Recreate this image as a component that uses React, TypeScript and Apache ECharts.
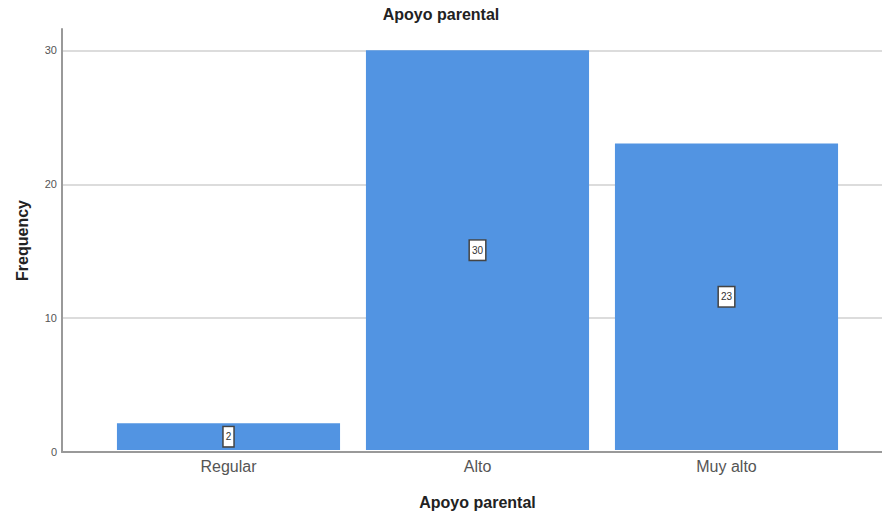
import React, { useEffect, useRef } from "react";
import * as echarts from "echarts";

const categories = ["Regular", "Alto", "Muy alto"];
const frequencies = [2, 30, 23];
const yTicks = [0, 10, 20, 30];
const chartTitle = "Apoyo parental";
const xTitle = "Apoyo parental";
const yTitle = "Frequency";

const FONT = "'Liberation Sans', Arial, sans-serif";
const Y_MAX = 31.6;

export default function App() {
  const ref = useRef<HTMLDivElement>(null);
  useEffect(() => {
    if (!ref.current) return;
    const chart = echarts.init(ref.current, undefined, { renderer: "svg" });
    chart.setOption({
      animation: false,
      backgroundColor: "#ffffff",
      title: {
        text: chartTitle,
        left: "center",
        top: 1,
        textStyle: { fontFamily: FONT, fontSize: 16, fontWeight: "bold", color: "#222" },
      },
      grid: [
        { left: 62, right: 0, top: 29, bottom: 63 },
        { left: 104, right: 31, top: 29, bottom: 63 },
      ],
      xAxis: [
        {
          gridIndex: 0,
          type: "category",
          data: [""],
          axisLine: { show: true, lineStyle: { color: "#999", width: 2 } },
          axisTick: { show: false },
          axisLabel: { show: false },
        },
        {
          gridIndex: 1,
          type: "category",
          data: categories,
          axisLine: { show: false },
          axisTick: { show: false },
          axisLabel: { fontFamily: FONT, fontSize: 16, color: "#555", margin: 8 },
          name: xTitle,
          nameLocation: "middle",
          nameGap: 44,
          nameTextStyle: { fontFamily: FONT, fontSize: 16, fontWeight: "bold", color: "#222" },
        },
      ],
      yAxis: [
        {
          gridIndex: 0,
          type: "value",
          min: 0,
          max: Y_MAX,
          interval: 10,
          axisLine: { show: true, lineStyle: { color: "#999", width: 2 } },
          axisTick: { show: false },
          axisLabel: {
            fontFamily: FONT,
            fontSize: 11,
            color: "#555",
            margin: 5,
            showMaxLabel: false,
            formatter: (v: number) => (yTicks.includes(v) ? String(v) : ""),
          },
          splitLine: { show: true, showMaxLine: false, showMinLine: false, lineStyle: { color: "#dcdcdc", width: 2 } },
          name: yTitle,
          nameLocation: "middle",
          nameGap: 32,
          nameTextStyle: { fontFamily: FONT, fontSize: 16, fontWeight: "bold", color: "#222" },
        },
        {
          gridIndex: 1,
          type: "value",
          min: 0,
          max: Y_MAX,
          interval: 10,
          show: false,
          splitLine: { show: false },
        },
      ],
      series: [
        {
          type: "bar",
          xAxisIndex: 1,
          yAxisIndex: 1,
          data: frequencies,
          barCategoryGap: "10.4%",
          itemStyle: { color: "#5294e2" },
          label: {
            show: true,
            position: "inside",
            fontFamily: FONT,
            fontSize: 10,
            color: "#333",
            backgroundColor: "#ffffff",
            borderColor: "#444",
            borderWidth: 1.5,
            padding: [5, 2, 4, 2],
          },
        },
      ],
    });
    return () => chart.dispose();
  }, []);
  return <div ref={ref} style={{ width: 882, height: 515, position: "fixed", left: 0, top: 0 }} />;
}
